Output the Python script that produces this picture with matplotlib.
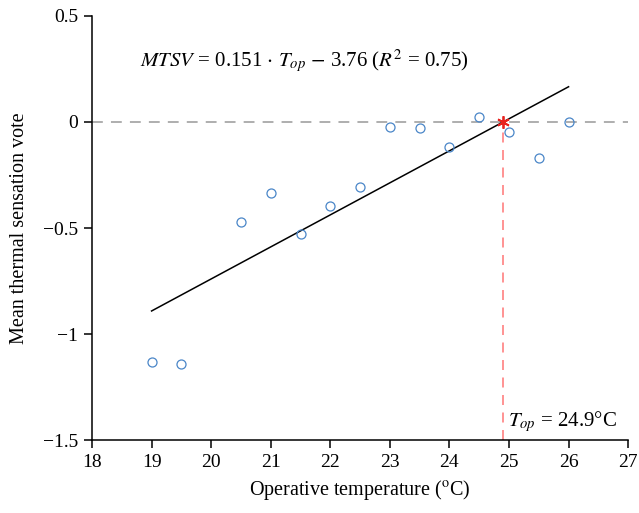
import numpy as np
import matplotlib
matplotlib.use("Agg")
import matplotlib.pyplot as plt

plt.rcParams['font.family'] = ['Liberation Serif', 'DejaVu Serif']
plt.rcParams['mathtext.fontset'] = 'stix'

# observed mean votes per operative temperature bin
temps = [19, 19.5, 20.5, 21, 21.5, 22, 22.5, 23, 23.5, 24, 24.5, 25, 25.5, 26]
mtsv = [-1.13, -1.14, -0.47, -0.335, -0.53, -0.398, -0.305, -0.023, -0.03,
        -0.12, 0.025, -0.047, -0.168, -0.001]

slope = 0.151
intercept = -3.76
fit_range = [19, 26]
neutral_temp = 24.9

fig = plt.figure(figsize=(6.39, 5.13), dpi=100)
ax = fig.add_axes([0.144, 0.142, 0.839, 0.827])

ax.axhline(0, color='#a8a8a8', lw=1.3, ls=(0, (6, 4.5)), zorder=1)
ax.plot([neutral_temp, neutral_temp], [-1.5, 0], color='#ff8080', lw=1.2,
        ls=(0, (6, 4.5)), zorder=1)

fit_x = np.array(fit_range)
ax.plot(fit_x, slope * fit_x + intercept, color='black', lw=1.1, zorder=2)

ax.plot(temps, mtsv, 'o', mfc='none', mec='#4a86c8', mew=0.9, ms=6.5, zorder=3)
ax.plot([neutral_temp], [0], marker=(6, 2, 0), color='#e8231f', ms=9, mew=1.3,
        zorder=4)

ax.text(18.8, 0.285, r'$MTSV$ = 0.151 $\cdot$ $T_{op}$ $-$ 3.76 ($R^2$ = 0.75)',
        fontsize=15, va='center', ha='left')
ax.text(24.98, -1.41, r'$T_{op}$ = 24.9°C', fontsize=15, va='center', ha='left')

ax.set_xlim(18, 27)
ax.set_ylim(-1.5, 0.5)
ax.set_xticks(range(18, 28))
ax.set_yticks([-1.5, -1, -0.5, 0, 0.5])
ax.set_yticklabels(['\u22121.5', '\u22121', '\u22120.5', '0', '0.5'])

ax.spines['top'].set_visible(False)
ax.spines['right'].set_visible(False)
ax.spines['left'].set_linewidth(1.1)
ax.spines['bottom'].set_linewidth(1.1)
ax.tick_params(direction='out', length=6, width=1.1, labelsize=14, pad=4)

ax.set_xlabel('Operative temperature ($^{\\mathrm{o}}$C)', fontsize=14.5, labelpad=5)
ax.set_ylabel('Mean thermal sensation vote', fontsize=14.5, labelpad=10)

fig.savefig('out.png', dpi=100)
